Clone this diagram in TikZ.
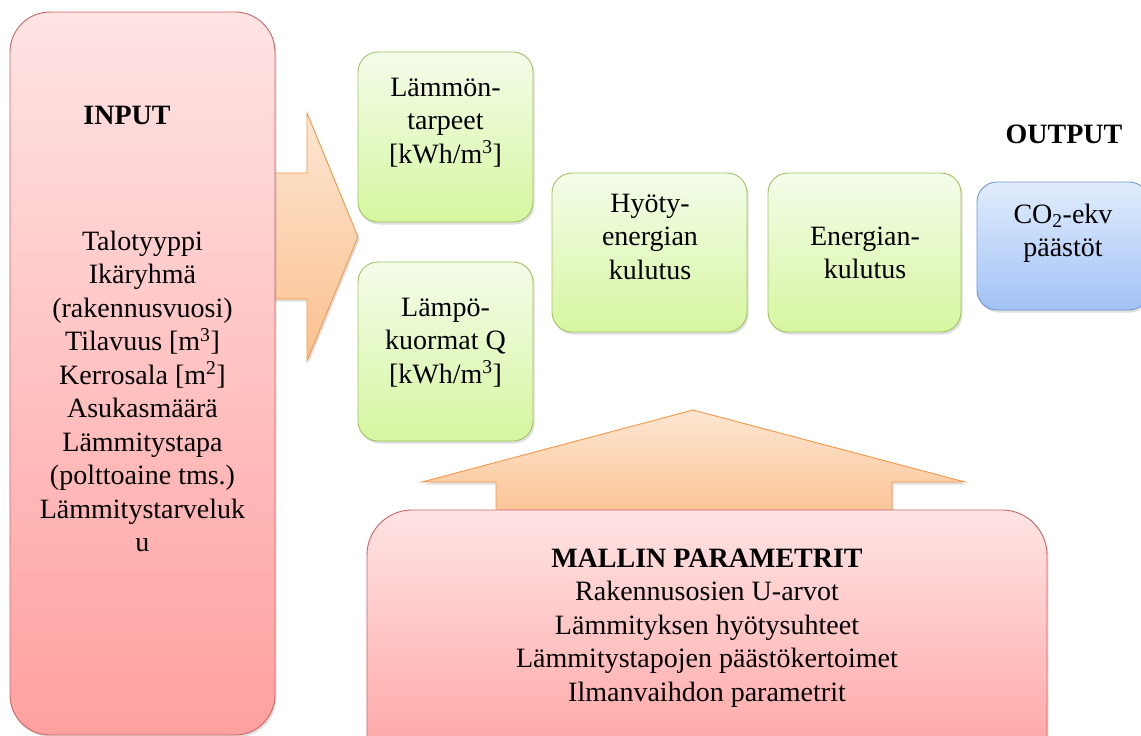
\documentclass[tikz,border=0pt]{standalone}
\usepackage{fontspec}
\setmainfont{Liberation Serif}
\usetikzlibrary{shadows}
\definecolor{redtop}{RGB}{255,228,228}
\definecolor{redbot}{RGB}{255,160,160}
\definecolor{redline}{RGB}{205,100,100}
\definecolor{grtop}{RGB}{244,252,234}
\definecolor{grbot}{RGB}{214,246,160}
\definecolor{grline}{RGB}{160,195,95}
\definecolor{bltop}{RGB}{224,236,252}
\definecolor{blbot}{RGB}{162,194,246}
\definecolor{blline}{RGB}{115,150,210}
\definecolor{ortop}{RGB}{253,230,210}
\definecolor{orbot}{RGB}{251,192,142}
\definecolor{orline}{RGB}{247,150,70}
\begin{document}
\begin{tikzpicture}[x=1pt,y=-1pt,
  txt/.style={font=\fontsize{28}{33.5}\selectfont, inner sep=0pt, anchor=base},
  shade/.style={drop shadow={shadow xshift=1.5pt, shadow yshift=-2.5pt, opacity=0.25}},
  redbox/.style={draw=redline, line width=0.9pt, top color=redtop, bottom color=redbot, rounded corners=40pt, shade, inner sep=0pt},
  greenbox/.style={draw=grline, line width=0.9pt, top color=grtop, bottom color=grbot, rounded corners=20pt, shade, inner sep=0pt},
  bluebox/.style={draw=blline, line width=0.9pt, top color=bltop, bottom color=blbot, rounded corners=20pt, shade, inner sep=0pt},
  blockarrow/.style={draw=orline, line width=0.9pt, top color=ortop, bottom color=orbot, shade, line join=miter}
]
\useasboundingbox (0,0) rectangle (1141,736);
\clip (0,0) rectangle (1141,736);

% block arrows (drawn first, behind the boxes)
\path[blockarrow] (262,173) -- (307,173) -- (307,113) -- (358,237) -- (307,361) -- (307,299) -- (262,299) -- cycle;
\path[blockarrow] (496,525) -- (496,482) -- (422,482) -- (693,410) -- (965,482) -- (892,482) -- (892,525) -- cycle;

% boxes
\node[redbox, minimum width=265pt, minimum height=723pt] (input) at (142.5,373.5) {};
\node[greenbox, minimum width=175pt, minimum height=170pt] (tarpeet) at (445.5,137) {};
\node[greenbox, minimum width=175pt, minimum height=179pt] (kuormat) at (445.5,351.5) {};
\node[greenbox, minimum width=195pt, minimum height=159pt] (hyoty) at (649.5,252.5) {};
\node[greenbox, minimum width=193pt, minimum height=159pt] (energia) at (864.5,252.5) {};
\node[bluebox, minimum width=172pt, minimum height=128pt] (co2) at (1063,246) {};
\node[redbox, rounded corners=45pt, minimum width=680pt, minimum height=270pt] (malli) at (707,645) {};

% texts
\node[txt] (tinput) at (127,124) {\textbf{INPUT}};
\node[txt] (tlist) at (142.5,250) {\parbox[t]{260pt}{\centering
  Talotyyppi\\ Ikäryhmä\\ (rakennusvuosi)\\ Tilavuus {[}m\textsuperscript{3}{]}\\
  Kerrosala {[}m\textsuperscript{2}{]}\\ Asukasmäärä\\ Lämmitystapa\\
  (polttoaine tms.)\\ Lämmitystarveluk\\ u}};
\node[txt] (ttarpeet) at (445.5,96) {\parbox[t]{170pt}{\centering Lämmön-\\ tarpeet\\ {[}kWh/m\textsuperscript{3}{]}}};
\node[txt] (tkuormat) at (445.5,316) {\parbox[t]{170pt}{\centering Lämpö-\\ kuormat Q\\ {[}kWh/m\textsuperscript{3}{]}}};
\node[txt] (thyoty) at (650,212) {\parbox[t]{190pt}{\centering Hyöty-\\ energian\\ kulutus}};
\node[txt] (tenergia) at (865,245) {\parbox[t]{190pt}{\centering Energian-\\ kulutus}};
\node[txt] (toutput) at (1064,143) {\textbf{OUTPUT}};
\node[txt] (tco2) at (1063,223) {\parbox[t]{170pt}{\centering CO\textsubscript{2}-ekv\\ päästöt}};
\node[txt] (tmalli) at (707,567) {\parbox[t]{600pt}{\centering
  \textbf{MALLIN PARAMETRIT}\\ Rakennusosien U-arvot\\ Lämmityksen hyötysuhteet\\
  Lämmitystapojen päästökertoimet\\ Ilmanvaihdon parametrit}};
\end{tikzpicture}
\end{document}
